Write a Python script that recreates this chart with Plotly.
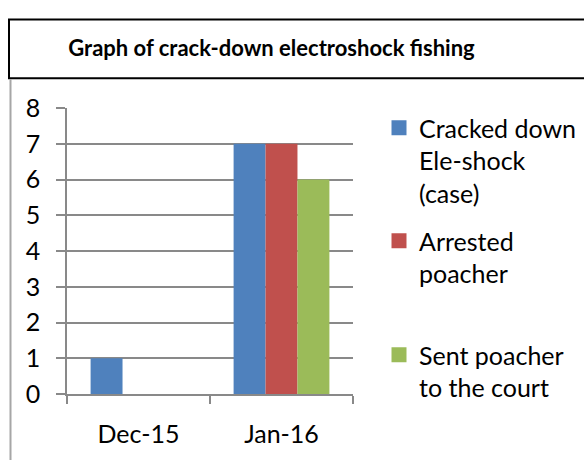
import plotly.graph_objects as go

categories = ["Dec-15", "Jan-16"]
cracked_down = [1, 7]
arrested = [None, 7]
sent_to_court = [None, 6]
series_names = ["Cracked down<br>Ele-shock<br>(case)", "Arrested<br>poacher", "Sent poacher<br>to the court"]
series_colors = ["#4F81BD", "#C0504D", "#9BBB59"]
y_ticks = [0, 1, 2, 3, 4, 5, 6, 7, 8]

FONT = "Lato"
W, H = 584, 460
L, R, T, B = 67, 353, 108, 402  # plot area in pixels

def px(x):
    return (x - L) / (R - L)

def py(y):
    return (B - y) / (B - T)

fig = go.Figure()
series_values = [cracked_down, arrested, sent_to_court]
legends = ["legend", "legend2", "legend3"]
for name, vals, col, lg in zip(series_names, series_values, series_colors, legends):
    fig.add_trace(go.Bar(x=categories, y=vals, name=name, marker=dict(color=col, line=dict(width=0)),
                         showlegend=False))
    fig.add_trace(go.Scatter(x=[None], y=[None], mode="markers", name=name,
                             marker=dict(symbol="square", size=15, color=col),
                             legend=lg, showlegend=True, hoverinfo="skip"))

legend_common = dict(font=dict(family=FONT, size=25, color="black"), bgcolor="rgba(0,0,0,0)",
                     borderwidth=0, valign="top", itemsizing="trace", xref="container", yref="container",
                     xanchor="left", yanchor="top", tracegroupgap=0)

fig.update_layout(
    width=W, height=H, autosize=False,
    margin=dict(l=L, r=W - R, t=T, b=H - B, pad=0),
    paper_bgcolor="white", plot_bgcolor="white",
    barmode="group", bargap=0.33, bargroupgap=0,
    title=dict(text="<b>Graph of crack-down electroshock fishing</b>",
               font=dict(family=FONT, size=22, color="black"),
               x=271.5 / W, xanchor="center", xref="container",
               y=1 - 48 / H, yanchor="middle", yref="container"),
    legend=dict(x=379 / W, y=1 - 105 / H, **legend_common),
    legend2=dict(x=379 / W, y=1 - 218 / H, **legend_common),
    legend3=dict(x=379 / W, y=1 - 332 / H, **legend_common),
    xaxis=dict(type="category", showgrid=False, showline=True, linecolor="#898989", linewidth=1.5,
               ticks="outside", ticklen=8, tickcolor="#898989", tickwidth=1.5, tickson="boundaries",
               tickfont=dict(family=FONT, size=25, color="black"), ticklabelstandoff=17),
    yaxis=dict(range=[0, 8], tickvals=y_ticks, showgrid=True, gridcolor="#898989", gridwidth=1.5,
               showline=True, linecolor="#898989", linewidth=1.5, zeroline=False,
               ticks="outside", ticklen=9, tickcolor="#898989", tickwidth=1.5,
               tickfont=dict(family=FONT, size=25, color="black"), ticklabelstandoff=11),
    shapes=[
        dict(type="rect", xref="paper", yref="paper", x0=px(9), x1=px(600), y0=py(77.5), y1=py(17),
             line=dict(color="black", width=2), fillcolor="rgba(0,0,0,0)", layer="above"),
        dict(type="line", xref="paper", yref="paper", x0=px(10.5), x1=px(10.5), y0=py(78.5), y1=py(470),
             line=dict(color="#a6a6a6", width=2)),
    ],
)

fig.write_html("out.html", config={"displayModeBar": False},
               post_script="document.body.style.margin='0';document.body.style.overflow='hidden';")
